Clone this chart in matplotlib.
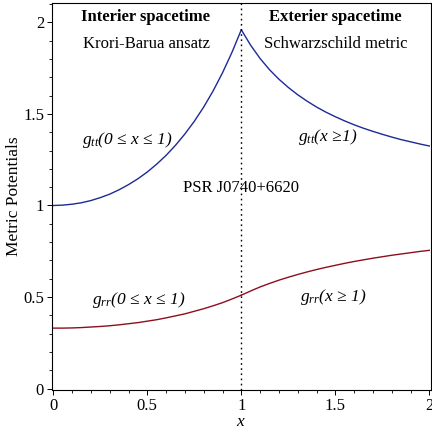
import numpy as np
import matplotlib
matplotlib.use("Agg")
import matplotlib.pyplot as plt

plt.rcParams['font.family'] = ['Liberation Serif', 'DejaVu Serif']
plt.rcParams['mathtext.fontset'] = 'custom'
plt.rcParams['mathtext.rm'] = 'Liberation Serif'
plt.rcParams['mathtext.it'] = 'Liberation Serif:italic'
plt.rcParams['mathtext.bf'] = 'Liberation Serif:bold'

# 曲线数据
x_in = np.linspace(0.0, 1.0, 21)
x_out = np.linspace(1.0, 2.0, 21)

gtt_in = [1.000, 1.002, 1.007, 1.015, 1.027, 1.043, 1.062, 1.086, 1.114, 1.146,
          1.183, 1.226, 1.274, 1.329, 1.391, 1.460, 1.538, 1.626, 1.725, 1.836, 1.960]
gtt_out = [1.960, 1.875, 1.803, 1.742, 1.690, 1.645, 1.605, 1.570, 1.538, 1.510,
           1.485, 1.462, 1.441, 1.422, 1.405, 1.389, 1.374, 1.360, 1.348, 1.336, 1.325]
grr_in = [0.330, 0.330, 0.331, 0.333, 0.336, 0.339, 0.343, 0.348, 0.354, 0.360,
          0.368, 0.376, 0.386, 0.397, 0.408, 0.422, 0.436, 0.452, 0.469, 0.489, 0.510]
grr_out = [0.510, 0.533, 0.555, 0.574, 0.592, 0.608, 0.623, 0.637, 0.650, 0.662,
           0.673, 0.684, 0.694, 0.703, 0.712, 0.720, 0.728, 0.735, 0.742, 0.749, 0.755]

x_boundary = 1.0

blue = '#1c2a96'
red = '#8c0f1e'

fig = plt.figure(figsize=(4.32, 4.36), dpi=100)
ax = fig.add_axes([0.1197, 0.1048, 0.8780, 0.8890])

ax.plot(x_in, gtt_in, color=blue, lw=1.0)
ax.plot(x_out, gtt_out, color=blue, lw=1.0)
ax.plot(x_in, grr_in, color=red, lw=1.0)
ax.plot(x_out, grr_out, color=red, lw=1.0)
ax.axvline(x_boundary, color='black', lw=1.0, ls=(0, (1.2, 2.5)))

ax.set_xlim(-0.0085, 2.009)
ax.set_ylim(-0.0098, 2.108)
ax.set_xticks([0, 0.5, 1, 1.5, 2])
ax.set_xticklabels(['0', '0.5', '1', '1.5', '2'])
ax.set_yticks([0, 0.5, 1, 1.5, 2])
ax.set_yticklabels(['0', '0.5', '1', '1.5', '2'])
ax.set_xticks(np.arange(0, 2.01, 0.1), minor=True)
ax.set_yticks(np.arange(0, 2.11, 0.1), minor=True)
ax.tick_params(which='major', direction='out', length=3.5, width=0.7, labelsize=12, pad=2)
ax.tick_params(which='minor', direction='out', length=2, width=0.6)
for s in ax.spines.values():
    s.set_linewidth(0.8)

ax.set_xlabel('$x$', fontsize=12.5, labelpad=0)
ax.set_ylabel('Metric Potentials', fontsize=12.5, labelpad=1)

fs = 12
ax.text(0.493, 2.028, 'Interier spacetime', fontsize=fs, fontweight='bold', ha='center', va='center')
ax.text(1.501, 2.028, 'Exterier spacetime', fontsize=fs, fontweight='bold', ha='center', va='center')
ax.text(0.496, 1.882, 'Krori-Barua ansatz', fontsize=fs, ha='center', va='center')
ax.text(1.504, 1.881, 'Schwarzschild metric', fontsize=fs, ha='center', va='center')
ax.text(0.998, 1.094, 'PSR J0740+6620', fontsize=fs, ha='center', va='center')

fl = 12.5
ax.text(0.395, 1.358, 'g$_{tt}$(0 ≤ x ≤ 1)', fontsize=fl, style='italic', ha='center', va='center')
ax.text(1.461, 1.376, 'g$_{tt}$(x ≥1)', fontsize=fl, style='italic', ha='center', va='center')
ax.text(0.452, 0.484, 'g$_{rr}$(0 ≤ x ≤ 1)', fontsize=fl, style='italic', ha='center', va='center')
ax.text(1.488, 0.502, 'g$_{rr}$(x ≥ 1)', fontsize=fl, style='italic', ha='center', va='center')

fig.savefig('out.png', dpi=100)
